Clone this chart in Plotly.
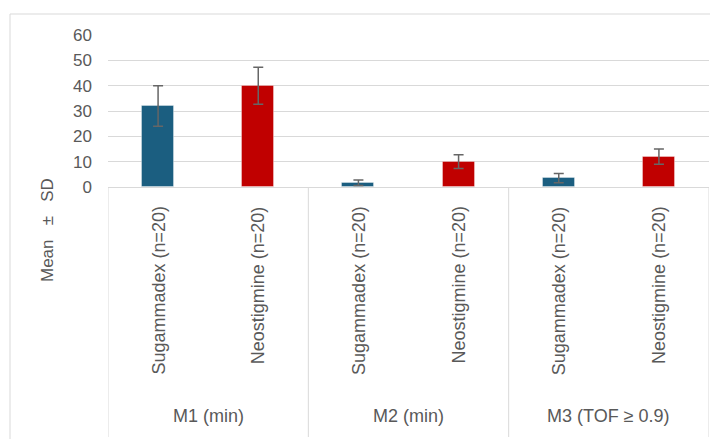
import plotly.graph_objects as go

# ---- data ----
groups = ["M1 (min)", "M2 (min)", "M3 (TOF ≥ 0.9)"]
drugs = ["Sugammadex (n=20)", "Neostigmine (n=20)"]
sugammadex_mean = [32, 1.7, 3.5]
sugammadex_sd = [8, 1.1, 1.8]
neostigmine_mean = [40, 10, 12]
neostigmine_sd = [7.3, 2.7, 3]
y_ticks = [0, 10, 20, 30, 40, 50, 60]
y_title = "Mean\u00a0\u00a0\u00a0±\u00a0\u00a0\u00a0SD"

# ---- styles ----
BLUE = "#1B5E80"
RED = "#C00000"
TXT = "#595959"
GRID = "#D9D9D9"
FONT = "Liberation Sans, Arial, sans-serif"
FS = 17

ids, vals, errs, cols, labels = [], [], [], [], []
for gi, g in enumerate(groups):
    for di, d in enumerate(drugs):
        ids.append(f"{g}|{d}")
        labels.append(d)
        if di == 0:
            vals.append(sugammadex_mean[gi]); errs.append(sugammadex_sd[gi]); cols.append(BLUE)
        else:
            vals.append(neostigmine_mean[gi]); errs.append(neostigmine_sd[gi]); cols.append(RED)

fig = go.Figure(go.Bar(
    x=ids, y=vals, width=0.32,
    marker=dict(color=cols, line=dict(color="rgba(255,255,255,0.35)", width=1)),
    error_y=dict(type="data", array=errs, visible=True, color="#666666", thickness=1.5, width=5),
    showlegend=False,
))

OFF = 8  # page body margin
W, H = 718 - OFF, 439 - OFF
PL, PR, PT, PB = 108, 709, 35, 187  # plot area in page pixels
L, T = PL - OFF, PT - OFF
R = W - (PR - OFF)
B = H - (PB - OFF)
pw, ph = PR - PL, PB - PT

def px_x(p):
    return (p - PL) / pw

def px_y(p):
    return (PB - p) / ph

annotations = []
for i, lab in enumerate(labels):
    annotations.append(dict(x=i, xref="x", y=px_y(204), yref="paper", text=lab,
                            textangle=-90, xanchor="center", yanchor="top", showarrow=False,
                            font=dict(size=18, color=TXT, family=FONT)))
for gi, g in enumerate(groups):
    annotations.append(dict(x=gi * 2 + 0.5, xref="x", y=px_y(416), yref="paper", text=g,
                            xanchor="center", yanchor="middle", showarrow=False,
                            font=dict(size=18, color=TXT, family=FONT)))
annotations.append(dict(x=px_x(47), xref="paper", y=px_y(230), yref="paper", text=y_title,
                        textangle=-90, xanchor="center", yanchor="middle", showarrow=False,
                        font=dict(size=FS, color=TXT, family=FONT)))

shapes = []
for k in range(len(groups) + 1):
    shapes.append(dict(type="line", xref="x", yref="paper", x0=k * 2 - 0.5, x1=k * 2 - 0.5,
                       y0=0, y1=px_y(437), line=dict(color=GRID, width=1)))
# outer chart border
shapes.append(dict(type="rect", xref="paper", yref="paper", x0=px_x(10), x1=px_x(722),
                   y0=px_y(445), y1=px_y(14), line=dict(color=GRID, width=1), layer="below"))

fig.update_layout(
    width=W, height=H,
    margin=dict(l=L, r=R, t=T, b=B),
    paper_bgcolor="white", plot_bgcolor="white",
    font=dict(family=FONT, size=FS, color=TXT),
    xaxis=dict(type="category", categoryarray=ids, categoryorder="array",
               showticklabels=False, showgrid=False, showline=True, linecolor=GRID,
               linewidth=1, range=[-0.5, 5.5], zeroline=False, fixedrange=True),
    yaxis=dict(range=[0, 60], tickvals=y_ticks, showgrid=True, gridcolor=GRID, gridwidth=1,
               zeroline=False, showline=False, ticks="", ticklabelstandoff=15,
               tickfont=dict(size=17, color=TXT, family=FONT)),
    annotations=annotations, shapes=shapes,
    bargap=0,
)

fig.write_html("out.html")
